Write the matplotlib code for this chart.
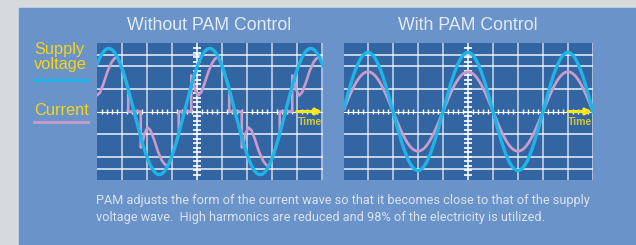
import numpy as np
import matplotlib.pyplot as plt
from matplotlib.lines import Line2D

# units: 1 time division = one vertical grid spacing, 1 level division = one horizontal grid spacing
LEFT_TIME = (-3.99, 5.05)
RIGHT_TIME = (-4.96, 5.0)
LEVEL = (-3.04, 3.04)
H_GRID = [-2.56, -2.0, -1.0, 1.0, 2.0, 2.5]

# without PAM: supply voltage (sine)
volt_amp_left = 2.8
volt_period_left = 4.04
volt_rise_left = -0.49  # upward zero crossing

# without PAM: one positive half-wave of the current, time from the voltage up-crossing
curr_t = [-0.23, 0.27, 0.27, 0.34, 0.42, 0.54, 0.66, 0.80, 0.96, 1.12,
          1.24, 1.32, 1.40, 1.52, 1.64, 1.79, 1.79]
curr_v = [0.0, 0.0, 1.6, 1.42, 0.98, 0.71, 0.84, 1.24, 1.78, 2.18,
          2.36, 2.40, 2.31, 2.00, 1.56, 1.02, 0.0]

# with PAM: voltage and current in phase, peaks at t = 0
volt_amp_right = 2.62
curr_amp_right = 1.76
period_right = 4.0

BG = '#d6dadd'
PANEL = '#6a93ca'
SCOPE = '#3465a3'
CYAN = '#1db5e8'
PINK = '#c89ccb'
YELLOW = '#f3d51c'
TEXT = '#e4eaf4'

W, H = 636, 245


def fx(px):
    return px / W


def fy(py):
    return 1 - py / H


def scope(ax, tlim):
    ax.set_facecolor(SCOPE)
    ax.set_xlim(*tlim)
    ax.set_ylim(*LEVEL)
    for s in ax.spines.values():
        s.set_visible(False)
    ax.set_xticks([])
    ax.set_yticks([])
    for x in range(int(np.ceil(tlim[0])), int(np.floor(tlim[1])) + 1):
        if x != 0:
            ax.axvline(x, color='white', lw=1.1, alpha=0.75, zorder=1)
    for y in H_GRID:
        ax.axhline(y, color='white', lw=1.1, alpha=0.9, zorder=1)
    # centre axes with scale ticks
    ax.axhline(0, color='white', lw=0.8, zorder=1)
    ax.axvline(0, color='white', lw=1.1, zorder=1)
    xt = np.arange(np.ceil(tlim[0] * 5), np.floor(tlim[1] * 5) + 1) / 5
    xt = xt[np.abs(xt - np.round(xt)) > 0.01]
    ax.vlines(xt, -0.13, 0.13, color='white', lw=1.0, zorder=1)
    yt = np.arange(-14, 15) / 5
    ax.hlines(yt, -0.17, 0.17, color='white', lw=1.2, zorder=1)
    ax.annotate('', xy=(tlim[1] - 0.03, 0), xytext=(4.0, 0),
                arrowprops=dict(arrowstyle='-|>', color='#ffe81a', lw=2.2,
                                mutation_scale=9, shrinkA=0, shrinkB=0),
                zorder=4)
    ax.text(tlim[1] - 0.5, -0.45, 'Time', color='#d2c63a', fontsize=7.6,
            fontweight='bold', family='Liberation Sans', ha='center',
            va='center', zorder=4)


fig = plt.figure(figsize=(W / 100, H / 100), dpi=100)
fig.patch.set_facecolor(BG)
fig.patches.append(plt.Rectangle((fx(19), 0), 1 - fx(19), fy(8),
                                 transform=fig.transFigure, color=PANEL,
                                 zorder=-10))

ax1 = fig.add_axes([fx(97), fy(180), fx(226), 137 / H])
ax2 = fig.add_axes([fx(344), fy(180), fx(249), 137 / H])
scope(ax1, LEFT_TIME)
scope(ax2, RIGHT_TIME)

# left: distorted current built from the half-wave, then the supply voltage
half = volt_period_left / 2
ct, cv = [], []
for k in range(-4, 7):
    sign = 1 if k % 2 == 0 else -1
    ct += [t + volt_rise_left + k * half for t in curr_t]
    cv += [sign * v for v in curr_v]
ax1.plot(ct, cv, color=PINK, lw=1.9, zorder=2, solid_joinstyle='round')
t = np.linspace(*LEFT_TIME, 400)
ax1.plot(t, volt_amp_left * np.sin(2 * np.pi * (t - volt_rise_left) / volt_period_left),
         color=CYAN, lw=2.4, zorder=3)

t = np.linspace(*RIGHT_TIME, 400)
ax2.plot(t, curr_amp_right * np.cos(2 * np.pi * t / period_right),
         color=PINK, lw=2.0, zorder=2)
ax2.plot(t, volt_amp_right * np.cos(2 * np.pi * t / period_right),
         color=CYAN, lw=2.4, zorder=3)

title_kw = dict(color=TEXT, fontsize=12.8, family='Liberation Sans',
                ha='center', va='center')
fig.text(fx(209), fy(25), 'Without PAM Control', **title_kw)
fig.text(fx(468), fy(25), 'With PAM Control', **title_kw)

# legend on the left
fig.text(fx(34), fy(57), 'Supply\nvoltage', color=YELLOW, fontsize=11.8,
         family='Liberation Sans', ha='left', va='center', linespacing=0.92)
fig.text(fx(34), fy(110), 'Current', color=YELLOW, fontsize=11.8,
         family='Liberation Sans', ha='left', va='center')
fig.add_artist(Line2D([fx(34), fx(88)], [fy(80.5), fy(80.5)], color=CYAN,
                      lw=2.3, transform=fig.transFigure))
fig.add_artist(Line2D([fx(34), fx(88)], [fy(122), fy(122)], color=PINK,
                      lw=2.0, transform=fig.transFigure))

note = ('PAM adjusts the form of the current wave so that it becomes close to that of the supply\n'
        'voltage wave.  High harmonics are reduced and 98% of the electricity is utilized.')
fig.text(fx(96), fy(209), note, color='#dae2ef', fontsize=9.2,
         family='Roboto', ha='left', va='center', linespacing=1.42)

fig.savefig('out.png', dpi=100, facecolor=BG)
